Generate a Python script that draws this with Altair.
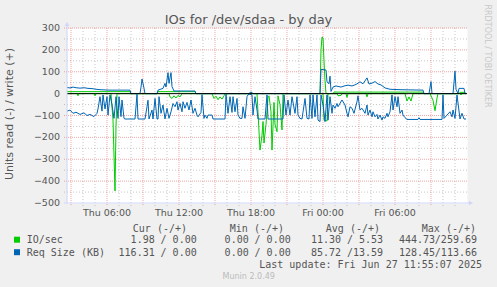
import altair as alt
import pandas as pd

# ---------------- texts ----------------
title_text = "IOs for /dev/sdaa - by day"
y_title = "Units read (-) / write (+)"
x_tick_minutes = [360, 720, 1080, 1440, 1800]          # minutes since Thu 00:00
x_tick_labels = ["Thu 06:00", "Thu 12:00", "Thu 18:00", "Fri 00:00", "Fri 06:00"]
y_ticks = [300, 200, 100, 0, -100, -200, -300, -400, -500]
x_major_grid = [180, 360, 540, 720, 900, 1080, 1260, 1440, 1620, 1800, 1980]
x_minor_grid = [240, 300, 420, 480, 600, 660, 780, 840, 960, 1020, 1140, 1200,
                1320, 1380, 1500, 1560, 1680, 1740, 1860, 1920, 2040, 2100]
y_major_grid = [300, 200, 100, -100, -200, -300, -400]
y_minor_grid = [250, 150, 50, -50, -150, -250, -350, -450]

legend_names = ["IO/sec", "Req Size (KB)"]
legend_headers = ["Cur (-/+)", "Min (-/+)", "Avg (-/+)", "Max (-/+)"]
legend_cur = [(1.98, 0.00), (116.31, 0.00)]
legend_min = [(0.00, 0.00), (0.00, 0.00)]
legend_avg = [(11.30, 5.53), (85.72, 13.59)]
legend_max = [(444.73, 259.69), (128.45, 113.66)]
last_update = "Last update: Fri Jun 27 11:55:07 2025"
version_text = "Munin 2.0.49"
watermark = "RRDTOOL / TOBI OETIKER"

# ---------------- series: (minutes since Thu 00:00, value) ----------------
io_read = [(160, 0), (210, 0), (215, -10), (220, 0), (295, 0), (300, -10), (305, 0),
           (380, 0), (390, -120), (400, -445), (405, -150), (410, 0), (670, 0), (675, -15),
           (685, -22), (695, -10), (705, -20), (715, -8), (725, -15), (735, 0), (885, 0),
           (895, -22), (905, -12), (915, -28), (925, -15), (935, -25), (945, -10), (950, 0),
           (1110, 0), (1125, -258), (1135, -190), (1140, -128), (1145, -226), (1155, -140),
           (1165, -15), (1170, -10), (1180, -83), (1185, -258), (1195, -40), (1200, -140),
           (1210, -174), (1215, -10), (1225, -50), (1235, -166), (1240, 0), (1440, 0),
           (1445, -120), (1460, -125), (1465, 0), (1510, 0), (1515, -10), (1530, -8),
           (1535, 0), (1555, 0), (1560, -17), (1565, 0), (1655, 0), (1660, -15), (1665, 0),
           (1850, 0), (1860, -34), (1870, -15), (1880, -34), (1890, 0), (1975, 0),
           (1990, -30), (2000, -78), (2010, -20), (2015, 0), (2125, 0), (2130, -6),
           (2135, 0), (2155, 0)]
io_write = [(160, 9), (475, 9), (480, 0), (610, 0), (615, 9), (800, 9), (805, 0),
            (1425, 0), (1430, 200), (1435, 259), (1440, 255), (1445, 150), (1450, 60),
            (1455, 0), (1490, 0), (1495, 7), (1940, 7), (1945, 0), (2120, 0), (2125, 6),
            (2150, 6), (2155, 0)]
size_read = [(160, -80), (175, -75), (190, -90), (205, -85), (225, -95), (245, -88),
             (260, -100), (275, -95), (295, -105), (310, -90), (315, -70), (325, -14),
             (335, -80), (340, -6), (350, -70), (360, -14), (365, -98), (375, -6),
             (385, -52), (395, -113), (405, -14), (415, -113), (420, -14), (430, -105),
             (435, -29), (445, -113), (450, -116), (500, -116), (510, -3), (515, -116),
             (550, -116), (560, -60), (565, -30), (570, -116), (585, -75), (590, -116),
             (600, -22), (610, -116), (615, -116), (620, -14), (630, -90), (640, -52),
             (650, -116), (660, -67), (670, -113), (680, -83), (690, -45), (700, -60),
             (710, -37), (715, -75), (725, -45), (735, -83), (740, -37), (750, -67),
             (760, -40), (770, -75), (780, -29), (790, -90), (800, -67), (810, -98),
             (815, -106), (830, -86), (835, -5), (845, -113), (850, -98), (860, -113),
             (865, -98), (885, -98), (890, -116), (950, -116), (955, -3), (965, -90),
             (975, -14), (985, -86), (990, -14), (1000, -83), (1010, -22), (1015, -98),
             (1025, -113), (1035, -113), (1040, -60), (1050, -113), (1060, -14),
             (1065, -6), (1070, -2), (1085, -6), (1090, -98), (1100, -14), (1110, -75),
             (1115, -116), (1150, -116), (1160, -6), (1165, -116), (1240, -116),
             (1245, -6), (1255, -98), (1265, -29), (1275, -98), (1285, -14), (1300, -90),
             (1310, -14), (1315, -98), (1325, -113), (1335, -116), (1350, -22),
             (1360, -113), (1370, -116), (1375, -6), (1385, -113), (1390, -6),
             (1400, -106), (1410, -6), (1415, -121), (1425, -128), (1430, -6),
             (1440, -52), (1450, -128), (1460, -6), (1465, -121), (1475, -14),
             (1485, -90), (1490, -52), (1500, -67), (1510, -45), (1515, -60),
             (1535, -29), (1550, -52), (1560, -90), (1565, -106), (1575, -60),
             (1585, -67), (1595, -90), (1610, -37), (1615, -10), (1625, -75),
             (1635, -67), (1650, -90), (1660, -52), (1665, -98), (1675, -75),
             (1685, -106), (1690, -83), (1700, -106), (1710, -95), (1715, -116),
             (1725, -98), (1735, -121), (1740, -106), (1750, -113), (1760, -90),
             (1765, -106), (1775, -83), (1785, -6), (1790, -75), (1800, -14),
             (1810, -60), (1815, -14), (1825, -90), (1835, -75), (1840, -98),
             (1850, -110), (1860, -118), (1915, -118), (1920, -110), (1925, -118),
             (2035, -118), (2040, -6), (2045, -113), (2060, -98), (2075, -83),
             (2085, -106), (2090, -75), (2100, -113), (2110, -6), (2125, -116),
             (2135, -90), (2145, -116), (2155, -116)]
size_write = [(160, 28), (175, 26), (190, 30), (205, 27), (225, 25), (245, 27), (265, 24),
              (285, 23), (305, 20), (325, 18), (345, 17), (375, 16), (475, 16), (480, 0),
              (525, 0), (530, 30), (535, 67), (545, 25), (550, 0), (610, 0), (615, 16),
              (640, 24), (650, 47), (655, 30), (665, 96), (670, 47), (680, 96), (685, 32),
              (695, 12), (800, 12), (805, 0), (1070, 0), (1075, 6), (1085, 6), (1090, 0),
              (1425, 0), (1430, 111), (1455, 108), (1460, 54), (1470, 45), (1475, 80),
              (1480, 10), (1490, 30), (1505, 35), (1530, 30), (1550, 36), (1565, 39),
              (1585, 35), (1605, 42), (1625, 54), (1640, 45), (1660, 72), (1670, 44),
              (1685, 48), (1700, 55), (1715, 44), (1730, 40), (1750, 26), (1775, 20),
              (1825, 18), (1940, 16), (1945, 0), (1970, 0), (1980, 55), (1985, 0),
              (2090, 0), (2100, 103), (2105, 20), (2115, 0), (2120, 24), (2145, 24),
              (2150, 0), (2155, 0)]

# ---------------- styling ----------------
GREEN = "#00CC00"
BLUE = "#0066B3"
FONT_COLOR = "#555555"
AXIS_COLOR = "#CFD6F8"
W, H = 400, 175
OX, OY = 67, 28
xs = alt.Scale(domain=[160, 2160], nice=False, zero=False)
ys = alt.Scale(domain=[-500, 300], nice=False, zero=False)
dummy = pd.DataFrame({"k": [0]})


def df_pairs(pairs):
    return pd.DataFrame({"i": list(range(len(pairs))),
                         "m": [p[0] for p in pairs],
                         "v": [p[1] for p in pairs]})


def line(pairs, color):
    return alt.Chart(df_pairs(pairs)).mark_line(color=color, strokeWidth=1).encode(
        x=alt.X("m:Q", scale=xs, axis=None),
        y=alt.Y("v:Q", scale=ys, axis=None),
        order="i:Q")


def vgrid(vals, color, opacity, dash):
    return alt.Chart(pd.DataFrame({"m": vals})).mark_rule(
        color=color, strokeDash=dash, strokeWidth=1, opacity=opacity).encode(
        x=alt.X("m:Q", scale=xs, axis=None), y=alt.value(0), y2=alt.value(H + 3))


def hgrid(vals, color, opacity, dash):
    return alt.Chart(pd.DataFrame({"v": vals})).mark_rule(
        color=color, strokeDash=dash, strokeWidth=1, opacity=opacity).encode(
        y=alt.Y("v:Q", scale=ys, axis=None), x=alt.value(-3), x2=alt.value(W))


def txt(s, x, y, size=10, font="DejaVu Sans Mono", color=FONT_COLOR, align="left",
        angle=0, baseline="alphabetic"):
    kw = dict(text=s, font=font, fontSize=size, color=color, align=align, baseline=baseline)
    if angle:
        kw["angle"] = angle
    return alt.Chart(dummy).mark_text(**kw).encode(x=alt.value(x - OX), y=alt.value(y - OY))


def box(x1, x2, y1, y2, color):
    return alt.Chart(dummy).mark_rect(color=color).encode(
        x=alt.value(x1 - OX), x2=alt.value(x2 - OX), y=alt.value(y1 - OY), y2=alt.value(y2 - OY))


# tick labels placed through the scales
x_labels = alt.Chart(pd.DataFrame({"m": x_tick_minutes, "t": x_tick_labels})).mark_text(
    font="DejaVu Sans", fontSize=9.5, color=FONT_COLOR, align="center",
    baseline="alphabetic").encode(
    x=alt.X("m:Q", scale=xs, axis=None), y=alt.value(215.5 - OY), text="t:N")
y_labels = alt.Chart(pd.DataFrame({"v": y_ticks})).mark_text(
    font="DejaVu Sans", fontSize=9.5, color=FONT_COLOR, align="right",
    baseline="middle").encode(
    y=alt.Y("v:Q", scale=ys, axis=None), x=alt.value(-7), text=alt.Text("v:Q", format="d"))

layers = [
    hgrid(y_minor_grid, "#8F8F8F", 0.5, [1, 2]),
    vgrid(x_minor_grid, "#8F8F8F", 0.5, [1, 2]),
    hgrid(y_major_grid, "#E05050", 0.5, [1, 1]),
    vgrid(x_major_grid, "#E05050", 0.5, [1, 1]),
    line(io_read, GREEN),
    line(io_write, GREEN),
    line(size_read, BLUE),
    line(size_write, BLUE),
    alt.Chart(pd.DataFrame({"v": [0]})).mark_rule(color="black", strokeWidth=1).encode(
        y=alt.Y("v:Q", scale=ys, axis=None), x=alt.value(0), x2=alt.value(W)),
    # axis lines and arrows
    alt.Chart(dummy).mark_rule(color=AXIS_COLOR).encode(
        x=alt.value(0), y=alt.value(-4), y2=alt.value(H)),
    alt.Chart(dummy).mark_rule(color=AXIS_COLOR).encode(
        x=alt.value(-3), x2=alt.value(W + 3), y=alt.value(H)),
    alt.Chart(dummy).mark_point(shape="triangle-up", filled=True, color=AXIS_COLOR,
                                size=22, opacity=1).encode(x=alt.value(0), y=alt.value(-4)),
    alt.Chart(dummy).mark_point(shape="triangle-right", filled=True, color=AXIS_COLOR,
                                size=22, opacity=1).encode(x=alt.value(W + 4), y=alt.value(H)),
    x_labels,
    y_labels,
    # title and axis title
    txt(title_text, 248.5, 23.5, size=13, font="DejaVu Sans", align="center"),
    txt(y_title, 10, 114, size=11, font="DejaVu Sans", align="center", angle=270,
        baseline="middle"),
    txt(watermark, 486.5, 56, size=8, font="DejaVu Sans", color="#C8C8C8",
        align="center", angle=90, baseline="middle"),
]

# legend header
header_right = [187, 284, 380, 476]
for h, xr in zip(legend_headers, header_right):
    layers.append(txt(h, xr, 231.5, align="right"))

col_ends = [196.7, 290.7, 383, 477]
row_base = [243.3, 255.7]
row_box = [(236.7, 242.7), (249.2, 255.2)]
colors = [GREEN, BLUE]
for r in range(2):
    layers.append(box(14, 20, row_box[r][0], row_box[r][1], colors[r]))
    layers.append(txt(legend_names[r], 26.7, row_base[r]))
    for col, end in zip([legend_cur, legend_min, legend_avg, legend_max], col_ends):
        a, b = col[r]
        layers.append(txt(f"{a:5.2f}", end - 42, row_base[r], align="right"))
        layers.append(txt(f" /{b:5.2f}", end, row_base[r], align="right"))

layers.append(txt(last_update, 482, 267.7, align="right"))
layers.append(txt(version_text, 248.7, 278.5, size=8, font="DejaVu Sans",
                  color="#BBBBBB", align="center"))

chart = alt.layer(*layers).properties(
    width=W, height=H,
    autosize=alt.AutoSizeParams(type="none"),
    padding={"left": OX, "top": OY, "right": 497 - OX - W, "bottom": 287 - OY - H},
    background="#F0F0F0",
).configure_view(fill="white", strokeOpacity=0)

chart.save("out.html", embed_options={"renderer": "svg", "actions": False})
